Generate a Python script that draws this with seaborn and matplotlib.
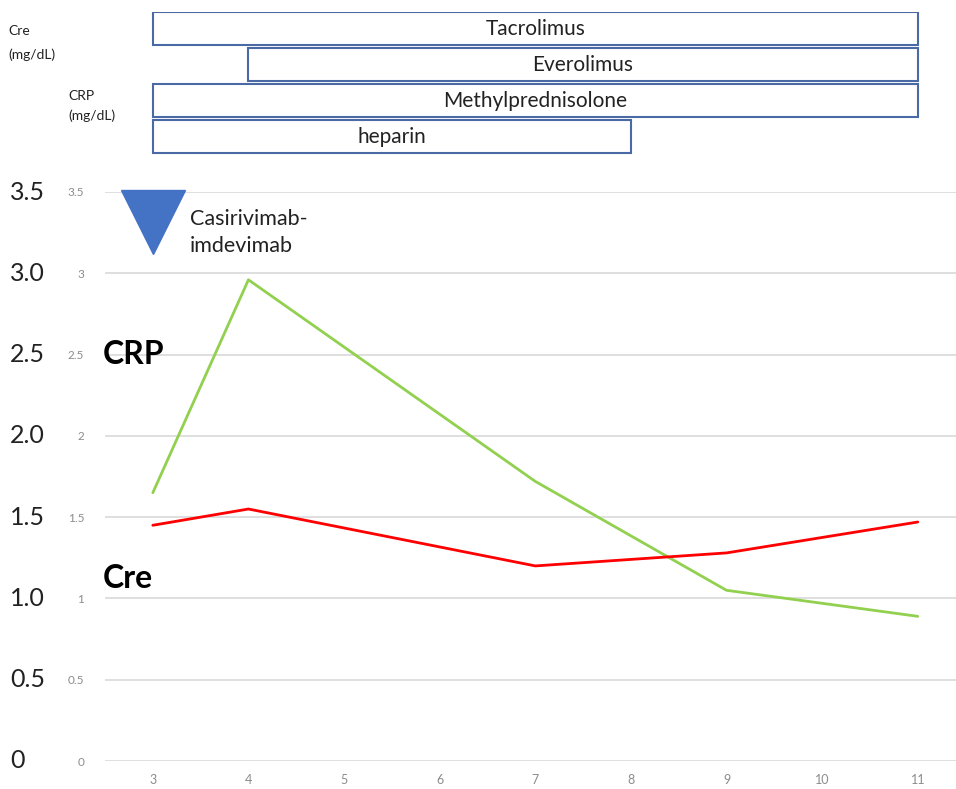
import matplotlib
matplotlib.use("Agg")
import matplotlib.pyplot as plt
import matplotlib.transforms as mtransforms
import seaborn as sns
import pandas as pd

sns.set_style("white")
plt.rcParams['font.family'] = ['Lato', 'DejaVu Sans']

# hospital day and lab values
days = [3, 4, 7, 9, 11]
crp = [1.65, 2.96, 1.72, 1.05, 0.89]
cre = [1.45, 1.55, 1.20, 1.28, 1.47]
xticks = [3, 4, 5, 6, 7, 8, 9, 10, 11]
yticks = [0, 0.5, 1, 1.5, 2, 2.5, 3, 3.5]
ytick_labels = ['0', '0.5', '1', '1.5', '2', '2.5', '3', '3.5']
outer_labels = ['0', '0.5', '1.0', '1.5', '2.0', '2.5', '3.0', '3.5']

# drug administration periods (start day, end day)
drugs = ['Tacrolimus', 'Everolimus', 'Methylprednisolone', 'heparin']
drug_start = [3, 4, 3, 3]
drug_end = [11, 11, 11, 8]

antibody_day = 3
antibody_label = 'Casirivimab-\nimdevimab'

df = pd.DataFrame({
    'day': days * 2,
    'value': crp + cre,
    'marker': ['CRP'] * len(days) + ['Cre'] * len(days),
})

W, H = 956, 789
fig = plt.figure(figsize=(W / 100, H / 100), dpi=100)

# main chart
ax = fig.add_axes([105 / W, 28 / H, 851 / W, 569 / H])
sns.lineplot(data=df, x='day', y='value', hue='marker',
             palette={'CRP': '#92d050', 'Cre': '#ff0000'},
             linewidth=2.0, legend=False, ax=ax)
ax.set_xlim(2.5, 11.4)
ax.set_ylim(0, 3.5)
ax.set_xticks(xticks)
ax.set_yticks(yticks)
ax.set_yticklabels(ytick_labels)
ax.set_xlabel('')
ax.set_ylabel('')
ax.grid(True, axis='y', color='#d9d9d9', linewidth=1.2)
ax.set_axisbelow(True)
for s in ax.spines.values():
    s.set_visible(False)
ax.tick_params(axis='y', length=0, pad=15, labelsize=8.5, labelcolor='#8c8c8c')
ax.tick_params(axis='x', length=0, pad=9, labelsize=9, labelcolor='#8c8c8c')

# outer (large) y labels
trans = mtransforms.blended_transform_factory(fig.transFigure, ax.transData)
for y, lab in zip(yticks, outer_labels):
    ax.text(10 / W, y, lab, transform=trans, ha='left', va='center',
            fontsize=18, color='#222222')

# series labels
ax.text(2.48, 2.5, 'CRP', fontsize=23, fontweight='bold', ha='left', va='center',
        color='black')
ax.text(2.48, 1.12, 'Cre', fontsize=23, fontweight='bold', ha='left', va='center',
        color='black')

# antibody infusion marker
ax.plot([antibody_day], [3.315], marker='v', markersize=46, color='#4472c4',
        linestyle='none', clip_on=False)
ax.text(antibody_day + 0.39, 3.25, antibody_label, fontsize=15.5,
        color='#222222', ha='left', va='center', linespacing=1.45)

# drug timeline boxes
ax_top = fig.add_axes([105 / W, (H - 156) / H, 851 / W, 144 / H])
ax_top.set_xlim(ax.get_xlim())
ax_top.set_ylim(4, 0)
ax_top.axis('off')
for i, (name, s, e) in enumerate(zip(drugs, drug_start, drug_end)):
    ax_top.barh(i + 0.46, e - s, left=s, height=0.92, color='white',
                edgecolor='#4a6aa5', linewidth=1.5)
    ax_top.text((s + e) / 2, i + 0.46, name, ha='center', va='center',
                fontsize=15, color='#222222')

fig.text(8 / W, 1 - 43 / H, 'Cre\n(mg/dL)', fontsize=10, ha='left', va='center',
         color='#222222', linespacing=2.0)
fig.text(68 / W, 1 - 106 / H, 'CRP\n(mg/dL)', fontsize=10, ha='left', va='center',
         color='#222222', linespacing=1.8)

fig.savefig('out.png', dpi=100)
